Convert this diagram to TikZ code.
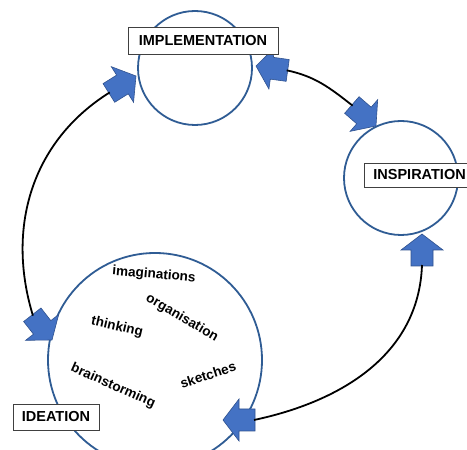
\documentclass[tikz,border=0pt]{standalone}
\usepackage{fontspec}
\setmainfont{Liberation Sans}
\definecolor{ringblue}{HTML}{2F5C94}
\definecolor{arrowblue}{HTML}{4472C4}
\definecolor{arrowedge}{HTML}{2F528F}
\begin{document}
\begin{tikzpicture}[x=1pt,y=1pt,
  ring/.style={circle,draw=ringblue,line width=1.8pt,fill=white,inner sep=0pt},
  labelbox/.style={draw=black!75,line width=0.8pt,fill=white,inner sep=0pt,
     font=\fontsize{14.5}{17}\selectfont\bfseries},
  word/.style={font=\fontsize{13.5}{16}\selectfont\bfseries,inner sep=0pt},
  link/.style={line width=1.8pt,black},
  blockarrow/.pic={
    \filldraw[fill=arrowblue,draw=arrowedge,line width=0.6pt]
      (0,0) -- (-16,21) -- (-16,11) -- (-32,11) -- (-32,-11) -- (-16,-11) -- (-16,-21) -- cycle;
    \coordinate (-tail) at (-31,0);
  }]
\useasboundingbox (0,0) rectangle (467,450);
% circles
\node[ring,minimum size=114pt] (impl) at (195,382) {};
\node[ring,minimum size=114pt] (insp) at (401,272) {};
\node[ring,minimum size=214pt] (idea) at (155,90) {};
% arrows
\pic[rotate=32]  (a1) at (136,374) {blockarrow};
\pic[rotate=172] (a2) at (256,384) {blockarrow};
\pic[rotate=-41] (a3) at (376,324) {blockarrow};
\pic[rotate=90]  (a4) at (422,216) {blockarrow};
\pic[rotate=180] (a5) at (223,30)  {blockarrow};
\pic[rotate=-52] (a6) at (52,110)  {blockarrow};
% connectors
\draw[link] (a6-tail) to[out=107,in=212] (a1-tail);
\draw[link] (a2-tail) to[out=-12,in=142] (a3-tail);
\draw[link] (a4-tail) to[out=-92,in=12] (a5-tail);
% labels
\node[labelbox,minimum width=150pt,minimum height=27pt] (limpl) at (203,409) {IMPLEMENTATION};
\node[labelbox,anchor=west,minimum height=24pt,inner xsep=9pt] (linsp) at (364,275) {INSPIRATION};
\node[labelbox,minimum width=86pt,minimum height=26pt] (lidea) at (56,33) {IDEATION};
% words
\node[word,rotate=-5]  (w1) at (154,175) {imaginations};
\node[word,rotate=-30] (w2) at (182,132) {organisation};
\node[word,rotate=-13] (w3) at (117,123) {thinking};
\node[word,rotate=-24] (w4) at (113,64)  {brainstorming};
\node[word,rotate=18]  (w5) at (208,75)  {sketches};
\end{tikzpicture}
\end{document}
